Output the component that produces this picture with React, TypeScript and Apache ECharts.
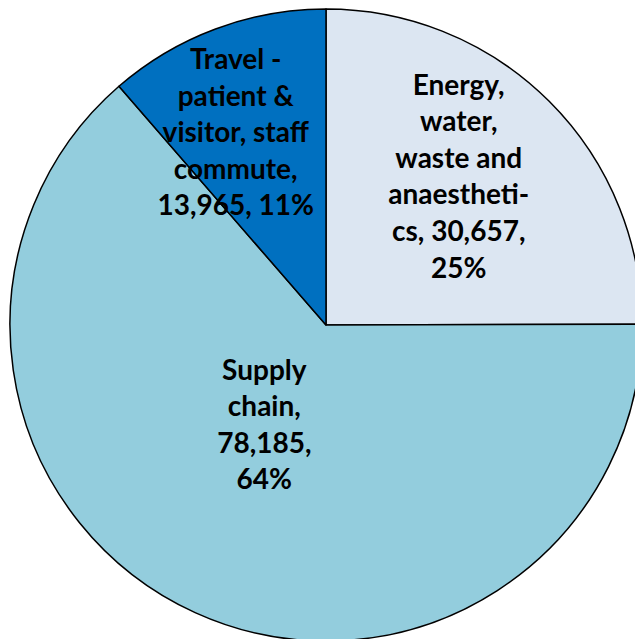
import React, { useEffect, useRef } from "react";
import * as echarts from "echarts";

const categories = [
  "Energy, water, waste and anaesthetics",
  "Supply chain",
  "Travel - patient & visitor, staff commute",
];
const values = [30657, 78185, 13965];
const labelLines = [
  ["Energy,", "water,", "waste and", "anaestheti-", "cs, {v},", "{p}%"],
  ["Supply", "chain,", "{v},", "{p}%"],
  ["Travel -", "patient &", "visitor, staff", "commute,", "{v}, {p}%"],
];
const colors = ["#DCE6F2", "#93CDDD", "#0070C0"];
const labelOffsets = [
  [19, -36],
  [5, -48],
  [-34, -43],
];

export default function App() {
  const ref = useRef<HTMLDivElement>(null);
  useEffect(() => {
    if (!ref.current) return;
    const chart = echarts.init(ref.current, null, { renderer: "svg" });
    const total = values.reduce((a, b) => a + b, 0);
    const data = categories.map((name, i) => ({
      name,
      value: values[i],
      itemStyle: { color: colors[i] },
      label: { offset: labelOffsets[i] },
    }));
    chart.setOption({
      animation: false,
      series: [
        {
          type: "pie",
          center: [326, 325],
          radius: [0, 316],
          startAngle: 90,
          clockwise: true,
          data,
          itemStyle: { borderColor: "#000", borderWidth: 1.5 },
          label: {
            show: true,
            position: "inside",
            color: "#000",
            fontFamily: "Lato, 'Open Sans', sans-serif",
            fontWeight: "bold",
            fontSize: 28,
            lineHeight: 36.6,
            align: "center",
            formatter: (p: any) => {
              const v = p.value.toLocaleString("en-US");
              const pct = Math.round((p.value / total) * 100);
              return labelLines[p.dataIndex]
                .map((l) => l.replace("{v}", v).replace("{p}", String(pct)))
                .join("\n");
            },
          },
          labelLine: { show: false },
          emphasis: { disabled: true },
        },
      ],
    });
    return () => chart.dispose();
  }, []);
  return (
    <div
      ref={ref}
      style={{ position: "fixed", left: 0, top: 0, width: 635, height: 639, background: "#fff" }}
    />
  );
}
